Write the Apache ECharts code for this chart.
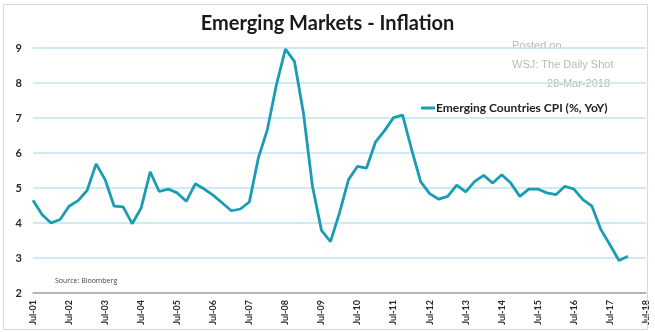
<!DOCTYPE html>
<html>
<head>
<meta charset="utf-8">
<script src="https://cdn.jsdelivr.net/npm/echarts@6/dist/echarts.min.js"></script>
<style>
html,body{margin:0;padding:0;background:#fff;}
#chart{width:655px;height:332px;}
</style>
</head>
<body>
<div id="chart"></div>
<script>
// Quarterly categories, Jul-01 .. Jul-18
var categories = [
  'Jul-01','Oct-01','Jan-02','Apr-02','Jul-02','Oct-02','Jan-03','Apr-03',
  'Jul-03','Oct-03','Jan-04','Apr-04','Jul-04','Oct-04','Jan-05','Apr-05',
  'Jul-05','Oct-05','Jan-06','Apr-06','Jul-06','Oct-06','Jan-07','Apr-07',
  'Jul-07','Oct-07','Jan-08','Apr-08','Jul-08','Oct-08','Jan-09','Apr-09',
  'Jul-09','Oct-09','Jan-10','Apr-10','Jul-10','Oct-10','Jan-11','Apr-11',
  'Jul-11','Oct-11','Jan-12','Apr-12','Jul-12','Oct-12','Jan-13','Apr-13',
  'Jul-13','Oct-13','Jan-14','Apr-14','Jul-14','Oct-14','Jan-15','Apr-15',
  'Jul-15','Oct-15','Jan-16','Apr-16','Jul-16','Oct-16','Jan-17','Apr-17',
  'Jul-17','Oct-17','Jan-18','Apr-18','Jul-18'
];
// Emerging Countries CPI (%, YoY)
var cpiValues = [
  4.65, 4.24, 4.00, 4.10, 4.48, 4.64, 4.93, 5.69,
  5.24, 4.48, 4.46, 3.98, 4.43, 5.46, 4.90, 4.97,
  4.86, 4.62, 5.12, 4.97, 4.79, 4.57, 4.35, 4.40,
  4.60, 5.86, 6.67, 7.95, 8.97, 8.62, 7.14, 5.05,
  3.79, 3.47, 4.29, 5.24, 5.62, 5.57, 6.32, 6.64,
  7.01, 7.08, 6.10, 5.18, 4.84, 4.68, 4.76, 5.08,
  4.89, 5.19, 5.36, 5.14, 5.38, 5.14, 4.76, 4.97,
  4.97, 4.86, 4.81, 5.05, 4.97, 4.67, 4.48, 3.81,
  3.38, 2.93, 3.05, null, null
];
var yTicks = { min: 2, max: 9, interval: 1 };
var seriesName = 'Emerging Countries CPI (%, YoY)';
var titleText = 'Emerging Markets - Inflation';
var sourceText = 'Source: Bloomberg';
var stampLines = ['Posted on', 'WSJ: The Daily Shot', '28-Mar-2018'];

var chart = echarts.init(document.getElementById('chart'), null, {renderer: 'canvas'});
var lineColor = '#1a9cb2';
var font = 'Lato, "Open Sans", sans-serif';

chart.setOption({
  animation: false,
  backgroundColor: '#ffffff',
  title: {
    text: titleText,
    left: 'center',
    top: 9,
    textStyle: { fontFamily: font, fontWeight: 'bold', fontSize: 20, color: '#1a1a1a' }
  },
  legend: {
    data: [seriesName],
    left: 416,
    top: 97,
    icon: 'rect',
    itemWidth: 14,
    itemHeight: 3,
    itemGap: 0,
    textStyle: { fontFamily: font, fontWeight: 'bold', fontSize: 12, color: '#222', padding: [0, 0, 0, -4] }
  },
  grid: { left: 33, right: 9, top: 48, bottom: 39, containLabel: false },
  xAxis: {
    type: 'category',
    data: categories,
    boundaryGap: false,
    axisLine: { show: true, lineStyle: { color: '#a6a6a6', width: 1.5 } },
    axisTick: { show: false },
    splitLine: { show: false },
    axisLabel: {
      interval: 3,
      rotate: 90,
      margin: 7,
      fontFamily: font,
      fontWeight: 'bold',
      fontSize: 9,
      color: '#2a2a2a'
    }
  },
  yAxis: {
    type: 'value',
    min: yTicks.min,
    max: yTicks.max,
    interval: yTicks.interval,
    axisLine: { show: false },
    axisTick: { show: false },
    axisLabel: { margin: 11, fontFamily: font, fontWeight: 'bold', fontSize: 11, color: '#2a2a2a' },
    splitLine: { show: true, lineStyle: { color: '#bce5ee', width: 1.5 } }
  },
  series: [{
    name: seriesName,
    type: 'line',
    data: cpiValues,
    symbol: 'none',
    smooth: false,
    connectNulls: false,
    lineStyle: { color: lineColor, width: 2.8 },
    itemStyle: { color: lineColor }
  }],
  graphic: [
    { type: 'rect', shape: { x: 3.5, y: 4.5, width: 644, height: 325 }, style: { fill: 'none', stroke: '#d9d9d9', lineWidth: 1 }, silent: true, z: 100 },
    { type: 'text', left: 55, top: 277, style: { text: sourceText, font: '7px "Open Sans", sans-serif', fill: '#444' } },
    { type: 'text', left: 512, top: 40, style: { text: stampLines[0], font: '11px "Liberation Sans", Arial, sans-serif', fill: '#b8b8b8' } },
    { type: 'text', left: 512, top: 59, style: { text: stampLines[1], font: '11px "Liberation Sans", Arial, sans-serif', fill: '#b8b8b8' } },
    { type: 'text', right: 45, top: 78, style: { text: stampLines[2], font: '11px "Liberation Sans", Arial, sans-serif', fill: '#b8b8b8' } }
  ]
});
</script>
</body>
</html>
